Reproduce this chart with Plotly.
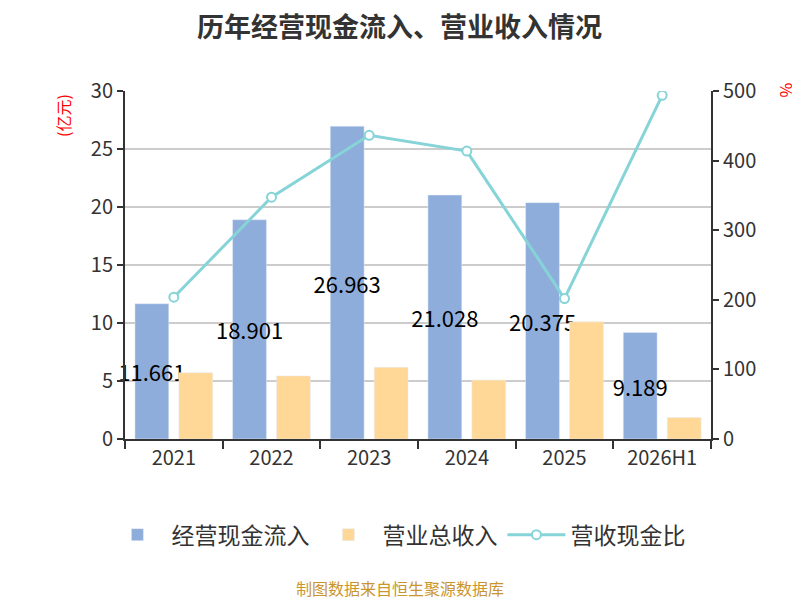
import plotly.graph_objects as go

categories = ["2021", "2022", "2023", "2024", "2025", "2026H1"]
cash_inflow = [11.661, 18.901, 26.963, 21.028, 20.375, 9.189]
revenue = [5.72, 5.44, 6.18, 5.08, 10.10, 1.86]
ratio = [203.7, 347.4, 436.3, 413.7, 201.8, 493.8]
cash_labels = ["11.661", "18.901", "26.963", "21.028", "20.375", "9.189"]

FONT = "Noto Sans CJK SC"
fig = go.Figure()
fig.add_trace(go.Bar(
    x=categories, y=cash_inflow, name="经营现金流入",
    marker=dict(color="#8EADDB"),
    text=cash_labels, textposition="inside", insidetextanchor="middle",
    textangle=0, textfont=dict(size=22, color="#000000", family=FONT),
    cliponaxis=False,
))
fig.add_trace(go.Bar(
    x=categories, y=revenue, name="营业总收入",
    marker=dict(color="#FFD898"),
))
fig.add_trace(go.Scatter(
    x=categories, y=ratio, name="营收现金比", yaxis="y2",
    mode="lines+markers",
    line=dict(color="#86D4D8", width=3),
    marker=dict(symbol="circle", size=9, color="#FFFFFF",
                line=dict(color="#86D4D8", width=2)),
))

fig.update_layout(
    width=792, height=592,
    margin=dict(l=117, r=89, t=83, b=161),
    paper_bgcolor="#FFFFFF", plot_bgcolor="#FFFFFF",
    font=dict(family=FONT, color="#333333", size=20),
    barmode="group", bargap=0.1, bargroupgap=0.23,
    uniformtext=dict(minsize=22, mode="show"),
    xaxis=dict(type="category", showline=True, linecolor="#333333", linewidth=2,
               ticks="outside", tickson="boundaries", ticklen=8, tickcolor="#333333",
               tickwidth=2, tickfont=dict(size=20, color="#333333"), showgrid=False),
    yaxis=dict(range=[0, 30], dtick=5, showline=True, linecolor="#333333", linewidth=2,
               ticks="outside", ticklen=6, tickcolor="#333333", tickwidth=2,
               gridcolor="#CCCCCC", gridwidth=2, zeroline=False,
               tickfont=dict(size=20, color="#333333")),
    yaxis2=dict(range=[0, 500], dtick=100, overlaying="y", side="right",
                showline=True, linecolor="#333333", linewidth=2,
                ticks="outside", ticklen=6, tickcolor="#333333", tickwidth=2,
                showgrid=False, zeroline=False,
                tickfont=dict(size=20, color="#333333")),
    legend=dict(orientation="h", x=0.464, xanchor="center", y=-0.275, yanchor="middle",
                font=dict(size=23, color="#333333"), itemwidth=58),
    showlegend=True,
    annotations=[
        dict(text="<b>历年经营现金流入、营业收入情况</b>", xref="paper", yref="paper",
             x=0.469, y=1.1868, xanchor="center", yanchor="middle", showarrow=False,
             font=dict(size=27, color="#333333")),
        dict(text="(亿元)", xref="paper", yref="paper", x=-0.106, y=0.931,
             xanchor="center", yanchor="middle",
             showarrow=False, textangle=-90, font=dict(size=16, color="#FF0000")),
        dict(text="%", xref="paper", yref="paper", x=1.13, y=1.003,
             xanchor="center", yanchor="middle",
             showarrow=False, textangle=90, font=dict(size=16, color="#FF0000")),
        dict(text="制图数据来自恒生聚源数据库", xref="paper", yref="paper", x=0.469, y=-0.427,
             xanchor="center", yanchor="middle",
             showarrow=False, font=dict(size=16, color="#C9952E")),
    ],
)

fig.write_html("out.html")
